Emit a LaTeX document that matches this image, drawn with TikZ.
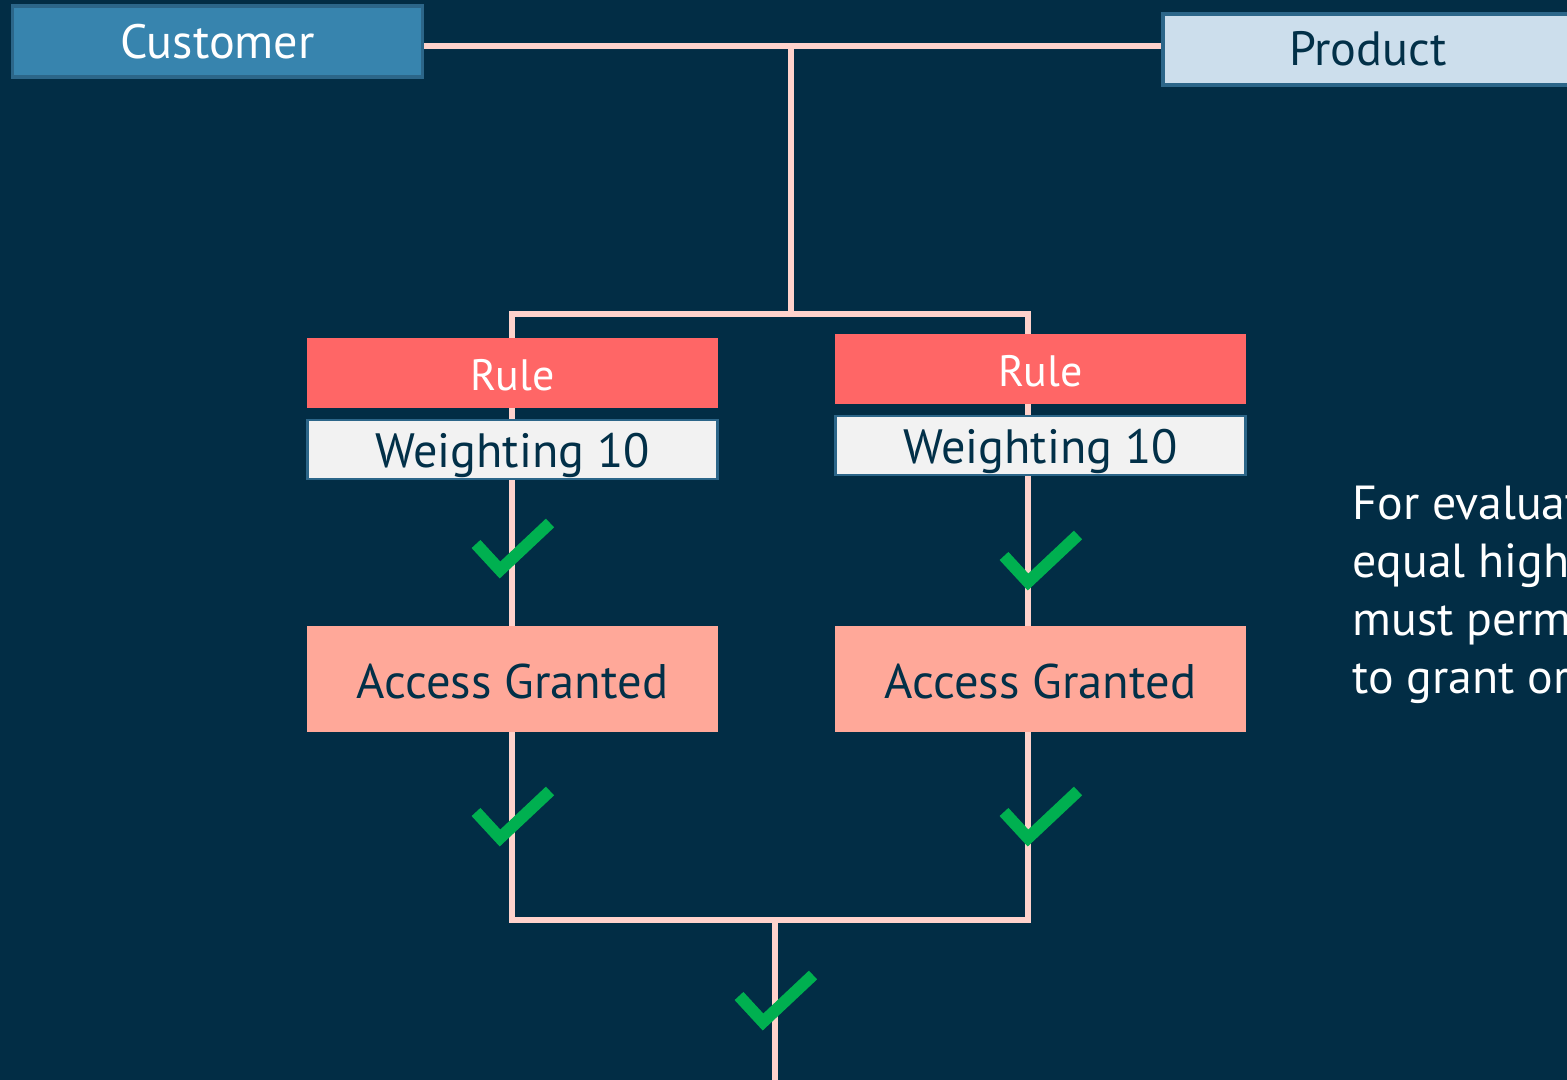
\documentclass[tikz,border=0pt]{standalone}
\usepackage{fontspec}
\setmainfont{PT Sans}
\usetikzlibrary{calc}

\definecolor{bgnavy}{HTML}{022D45}
\definecolor{textnavy}{HTML}{023048}
\definecolor{custblue}{HTML}{3784AE}
\definecolor{prodblue}{HTML}{CCDEEC}
\definecolor{edgeblue}{HTML}{2C6689}
\definecolor{wirepink}{HTML}{FFD2CB}
\definecolor{rulered}{HTML}{FF6666}
\definecolor{weightgrey}{HTML}{F2F2F2}
\definecolor{accesssalmon}{HTML}{FFA899}
\definecolor{tickgreen}{HTML}{00B050}

\pgfdeclarelayer{bg}
\pgfdeclarelayer{wires}
\pgfsetlayers{bg,wires,main}

\tikzset{
	box/.style = {rectangle, minimum width = 4.1cm, inner sep = 0pt, text depth = 0pt},
	custbox/.style = {box, fill = custblue, draw = edgeblue, line width = 1pt, minimum height = 0.71cm, text height = 0.35cm, text = white, font = \fontsize{13.7}{16}\selectfont},
	prodbox/.style = {box, fill = prodblue, draw = edgeblue, line width = 1pt, minimum height = 0.71cm, text height = 0.33cm, text = textnavy, font = \fontsize{13.7}{16}\selectfont},
	rulebox/.style = {box, fill = rulered, minimum height = 0.70cm, text height = 0.34cm, text = white, font = \fontsize{12.5}{15}\selectfont},
	weightbox/.style = {box, fill = weightgrey, draw = edgeblue, line width = 0.8pt, minimum height = 0.59cm, text height = 0.35cm, text = textnavy, font = \fontsize{13.7}{16}\selectfont},
	accessbox/.style = {box, fill = accesssalmon, minimum height = 1.06cm, text height = 0.38cm, text = textnavy, font = \fontsize{13.8}{16}\selectfont},
	wire/.style = {wirepink, line width = 1.7pt},
	greentick/.pic = {\draw[tickgreen, line width = 3.4pt] (-24,-26) -- (0,0) -- (50,-47);}
}

\begin{document}
\begin{tikzpicture}[x = 0.01cm, y = -0.01cm]
	%	canvas
	\useasboundingbox (0, 0) rectangle (1567, 1080);
	\clip (0, 0) rectangle (1567, 1080);
	\begin{pgfonlayer}{bg}
		\fill[bgnavy] (0, 0) rectangle (1567, 1080);
	\end{pgfonlayer}
	
	%	boxes
	\node[custbox] (customer) at (217.5, 41.5) {Customer};
	\node[prodbox] (product) at (1368, 49.5) {Product};
	
	\node[rulebox] (rule1) at (512.5, 373) {Rule};
	\node[weightbox] (weight1) at (512.5, 449.5) {Weighting 10};
	\node[accessbox] (access1) at (512.5, 679) {Access Granted};
	
	\node[rulebox] (rule2) at (1040.5, 369) {Rule};
	\node[weightbox] (weight2) at (1040.5, 445.5) {Weighting 10};
	\node[accessbox] (access2) at (1040.5, 679) {Access Granted};
	
	\node[anchor = north west, inner sep = 0pt, align = left, text = white, font = \fontsize{13.6}{16.5}\selectfont] (note) at (1352, 485) {For evaluat\\equal high\\must perm\\to grant or};
	
	%	junctions
	\coordinate (split) at (791, 46);
	\coordinate (fork) at (791, 314);
	\coordinate (forkL) at (512, 314);
	\coordinate (joinR) at (1028, 920);
	\coordinate (merge) at (775, 920);
	\coordinate (out) at (775, 1080);
	
	%	wires
	\begin{pgfonlayer}{wires}
		\draw[wire] (customer.east |- split) -- (product.west |- split);
		\draw[wire] (split) -- (fork);
		\draw[wire] (forkL) rectangle (joinR);
		\draw[wire] (merge) -- (out);
	\end{pgfonlayer}
	
	%	ticks
	\pic at (500, 570) {greentick};
	\pic at (500, 838) {greentick};
	\pic at (1028, 582) {greentick};
	\pic at (1028, 838) {greentick};
	\pic at (763, 1022) {greentick};
\end{tikzpicture}
\end{document}
